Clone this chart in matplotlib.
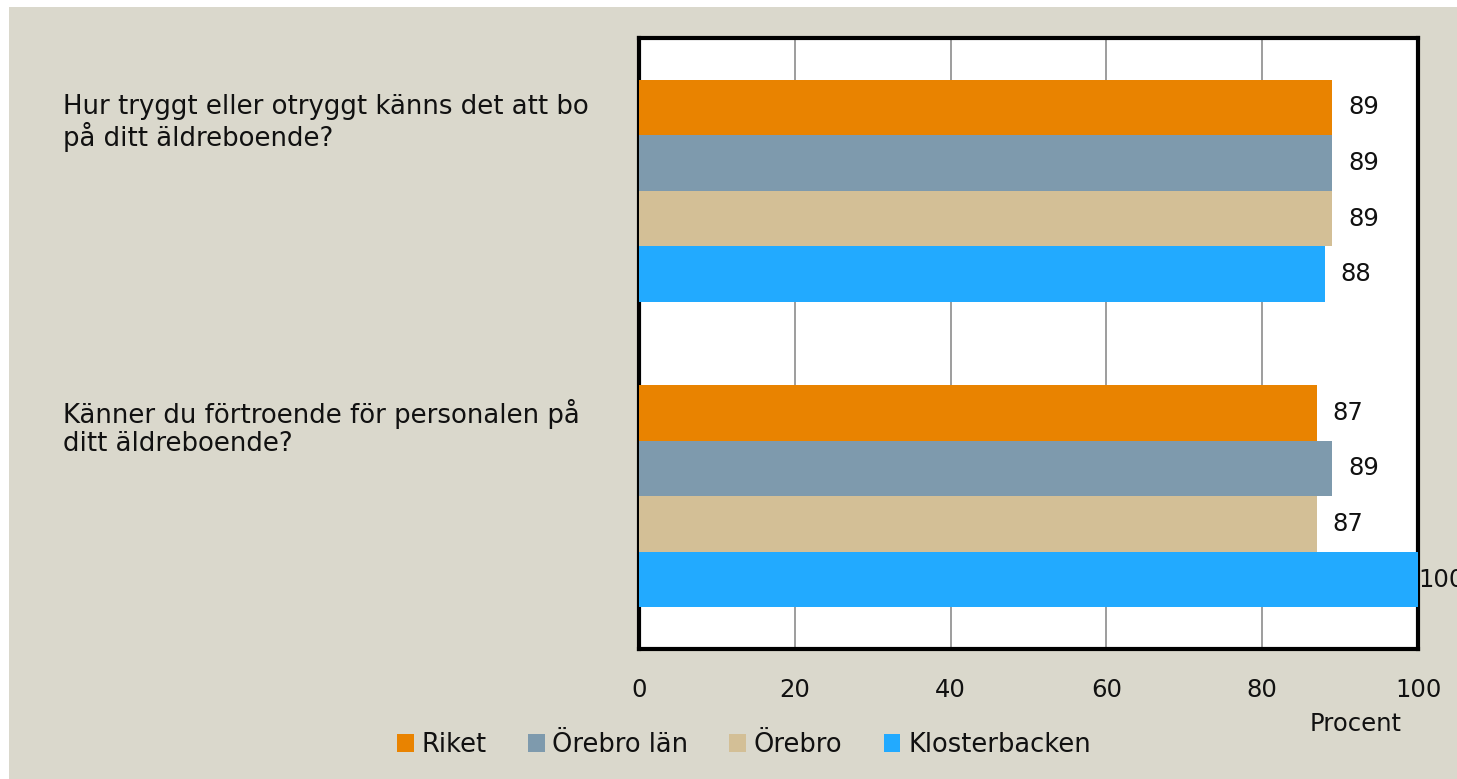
import numpy as np
import matplotlib
matplotlib.use("Agg")
import matplotlib.pyplot as plt
from matplotlib.patches import Rectangle

plt.rcParams['font.family'] = ['DejaVu Sans']

questions = ["Hur tryggt eller otryggt känns det att bo\npå ditt äldreboende?",
             "Känner du förtroende för personalen på\nditt äldreboende?"]
series = ["Riket", "Örebro län", "Örebro", "Klosterbacken"]
riket = [89, 87]
orebro_lan = [89, 89]
orebro = [89, 87]
klosterbacken = [88, 100]
values = [riket, orebro_lan, orebro, klosterbacken]
colors = ["#E98300", "#7E9AAD", "#D3BF96", "#22AAFF"]
xticks = [0, 20, 40, 60, 80, 100]

W, H = 1457, 779
fig = plt.figure(figsize=(W / 100, H / 100), dpi=100, facecolor="white")
bg = Rectangle((9 / W, 0), 1, 1 - 7 / H, transform=fig.transFigure,
               facecolor="#DAD8CC", edgecolor="none", zorder=-10)
fig.patches.append(bg)

ax = fig.add_axes([639 / W, 1 - 649 / H, (1418 - 639) / W, (649 - 38) / H])
ax.set_facecolor("white")

fs = 17.5
h = 0.182
ypos = np.arange(len(questions))
for i, (name, vals, c) in enumerate(zip(series, values, colors)):
    yy = ypos + (i - 1.5) * h
    ax.barh(yy, vals, height=h, color=c, label=name, zorder=3)
    for y, v in zip(yy, vals):
        ax.text(min(v + 2, 100), y, str(v), ha="left", va="center",
                fontsize=fs, color="#111111", zorder=4, clip_on=False)

ax.set_xlim(0, 100)
ax.set_ylim(1.5, -0.5)
ax.set_xticks(xticks)
ax.set_yticks([])
ax.tick_params(axis="x", length=0, pad=21, labelsize=fs, labelcolor="#111111")
ax.grid(axis="x", color="#8C8C8C", linewidth=1.2, zorder=0)
for s in ax.spines.values():
    s.set_linewidth(3)
    s.set_color("black")

for q, y in zip(questions, ypos):
    ax.annotate(q, xy=(63 / W, y - 2 * h + 0.046), xycoords=("figure fraction", "data"),
                ha="left", va="top", fontsize=18.7, color="#111111", linespacing=1.1)

fig.text(1356 / W, 1 - 724 / H, "Procent", ha="center", va="center",
         fontsize=fs, color="#111111")

fig.legend(loc="center", bbox_to_anchor=(744 / W, 1 - 745 / H), ncol=4,
           frameon=False, fontsize=18.5, handlelength=0.65, handleheight=0.65,
           handletextpad=0.3, columnspacing=1.6, labelcolor="#111111")

fig.savefig("out.png", dpi=100, facecolor="white")
